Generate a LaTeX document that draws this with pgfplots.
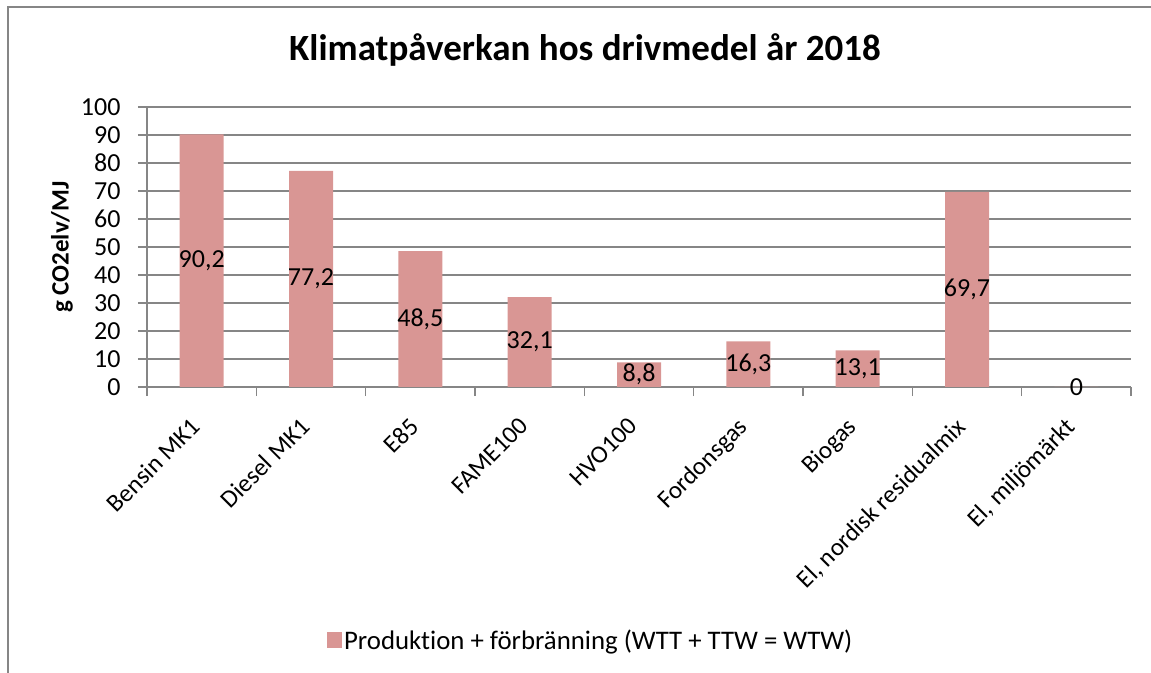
\documentclass[border=0pt]{standalone}
\usepackage{pgfplots}
\pgfplotsset{compat=1.18}
\usepackage{fontspec}
\setmainfont[Ligatures=NoCommon]{Carlito}
\definecolor{barcol}{RGB}{217,150,148}
\definecolor{axcol}{RGB}{134,134,134}
\pgfkeys{/pgf/number format/assume math mode=true}
\begin{document}
\begin{tikzpicture}
\path[use as bounding box] (0bp,0bp) rectangle (1151bp,673bp);
\draw[axcol, line width=2bp] (8bp,0bp) -- (8bp,666bp) -- (1151bp,666bp);
\node[font=\fontsize{37bp}{44bp}\selectfont\bfseries] at (585bp,623bp) {Klimatpåverkan hos drivmedel år 2018};
\begin{axis}[
  at={(147bp,286bp)}, anchor=south west,
  width=984bp, height=280bp, scale only axis,
  xmin=-0.5, xmax=8.5, ymin=0, ymax=100,
  enlargelimits=false, clip=false,
  axis x line=bottom, axis y line=left,
  axis line style={axcol, line width=1.5bp, -},
  ytick={0,10,...,100},
  xtick={0,...,8},
  xticklabels={Bensin MK1, Diesel MK1, E85, FAME100, HVO100, Fordonsgas, Biogas, {El, nordisk residualmix}, {El, miljömärkt}},
  minor xtick={-0.5,0.5,...,8.5},
  major x tick style={draw=none},
  minor x tick style={axcol, line width=1.5bp},
  y tick style={axcol, line width=1.5bp},
  major tick length=9bp, minor tick length=9bp,
  tick align=outside,
  ymajorgrids, grid style={axcol, line width=1.5bp},
  tick label style={font=\fontsize{26bp}{30bp}\selectfont, black},
  y tick label style={xshift=-14bp},
  x tick label style={xshift=-12bp, rotate=45, anchor=north east, inner sep=0pt, font=\fontsize{25bp}{30bp}\selectfont},
  xticklabel shift=20bp,
  ylabel={g CO2elv/MJ},
  y label style={font=\fontsize{25bp}{30bp}\selectfont\bfseries, at={(axis description cs:-0.0864,0.5)}, anchor=center, rotate=0},
  ybar, bar width=44bp,
  nodes near coords={\pgfmathprintnumber[fixed, precision=1, use comma]{\pgfplotspointmeta}},
  visualization depends on={rawy \as \rawy},
  every node near coord/.append style={font=\fontsize{26bp}{30bp}\selectfont, black, anchor=center, yshift={-1.4bp*\rawy}},
  legend style={at={(axis description cs:0.451,-0.904)}, anchor=center, draw=none, font=\fontsize{26.8bp}{30bp}\selectfont, inner sep=0pt},
  legend image code/.code={\fill[barcol] (0bp,-8bp) rectangle (15bp,8bp);},
]
\addplot[fill=barcol, draw=none] coordinates {(0,90.2) (1,77.2) (2,48.5) (3,32.1) (4,8.8) (5,16.3) (6,13.1) (7,69.7) (8,0)};
\addlegendentry{Produktion + förbränning (WTT + TTW = WTW)}
\end{axis}
\end{tikzpicture}
\end{document}
